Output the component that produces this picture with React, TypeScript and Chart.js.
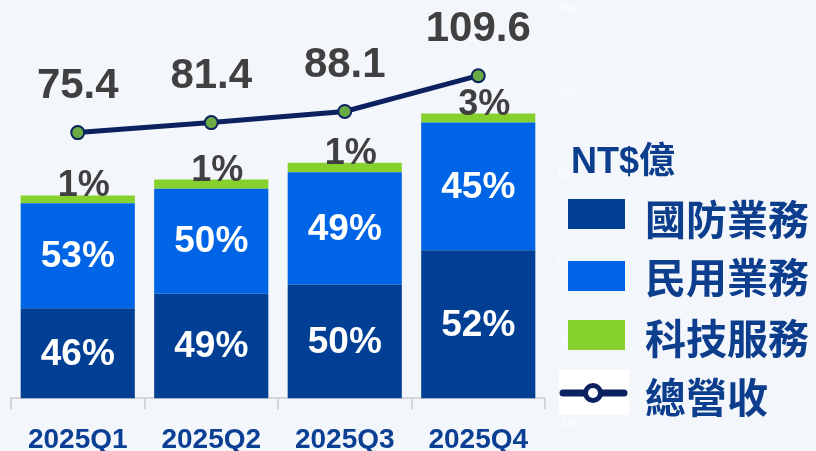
import React, { useEffect, useRef } from "react";
import { Chart, registerables } from "chart.js";

Chart.register(...registerables);

const categories = ["2025Q1", "2025Q2", "2025Q3", "2025Q4"];
const defenseValues = [34.7, 40.3, 43.7, 57.0];
const civilValues = [40.4, 40.4, 43.3, 49.1];
const techValues = [3.0, 3.5, 3.7, 3.5];
const defensePct = [46, 49, 50, 52];
const civilPct = [53, 50, 49, 45];
const techPct = [1, 1, 1, 3];
const totalRevenue = [75.4, 81.4, 88.1, 109.6];
const rightAxisTicks = [150, 100, 50, 0, -50, -100];

const seriesNames = ["國防業務", "民用業務", "科技服務", "總營收"];
const unitTitle = "NT$億";

const DARK = "#013f95";
const BLUE = "#0064e6";
const GREEN = "#86d12e";
const NAVY = "#0b2160";
const LEGEND_TEXT = "#0d3e8e";
const LATIN = '"Liberation Sans", Arial, "Noto Sans CJK TC", sans-serif';
const CJK = '"Noto Sans CJK TC", "Liberation Sans", sans-serif';

const labelPlugin = {
  id: "valueLabels",
  afterDatasetsDraw(chart: any) {
    const ctx = chart.ctx;
    ctx.save();
    ctx.textAlign = "center";
    ctx.textBaseline = "middle";
    const pctSets = [defensePct, civilPct];
    pctSets.forEach((arr, di) => {
      const meta = chart.getDatasetMeta(di);
      meta.data.forEach((el: any, i: number) => {
        const p = el.getProps(["x", "y", "base"], true);
        ctx.fillStyle = "#ffffff";
        ctx.font = `bold 37px ${LATIN}`;
        ctx.fillText(arr[i] + "%", p.x, (p.y + p.base) / 2 + 1);
      });
    });
    const techMeta = chart.getDatasetMeta(2);
    techMeta.data.forEach((el: any, i: number) => {
      const p = el.getProps(["x", "y", "base"], true);
      ctx.fillStyle = "#404040";
      ctx.font = `bold 36px ${LATIN}`;
      ctx.fillText(techPct[i] + "%", p.x + 6, (p.y + p.base) / 2 - 13);
    });
    const lineMeta = chart.getDatasetMeta(3);
    lineMeta.data.forEach((el: any, i: number) => {
      ctx.fillStyle = "#404040";
      ctx.font = `bold 42px ${LATIN}`;
      ctx.fillText(totalRevenue[i].toFixed(1), el.x, el.y - 46);
    });
    const y1 = chart.scales.y1;
    ctx.textAlign = "left";
    ctx.fillStyle = "#ffffff";
    ctx.font = `11px ${LATIN}`;
    rightAxisTicks.forEach((v) => {
      ctx.fillText(String(v), chart.chartArea.right + 13, y1.getPixelForValue(v));
    });
    ctx.restore();
  },
};

function LegendBox({ top, color }: { top: number; color: string }) {
  return (
    <div
      style={{
        position: "absolute",
        left: 568,
        top,
        width: 57,
        height: 30,
        background: color,
      }}
    />
  );
}

function LegendText({ top, text }: { top: number; text: string }) {
  return (
    <div
      style={{
        position: "absolute",
        left: 645,
        top,
        height: 44,
        lineHeight: "44px",
        fontFamily: CJK,
        fontWeight: 700,
        fontSize: 41,
        color: LEGEND_TEXT,
        whiteSpace: "nowrap",
      }}
    >
      {text}
    </div>
  );
}

export default function App() {
  const canvasRef = useRef<HTMLCanvasElement | null>(null);

  useEffect(() => {
    const canvas = canvasRef.current;
    if (!canvas) return;
    const chart = new Chart(canvas, {
      type: "bar",
      data: {
        labels: categories,
        datasets: [
          {
            label: seriesNames[0],
            data: defenseValues,
            backgroundColor: DARK,
            borderWidth: 0,
            stack: "rev",
            order: 1,
          },
          {
            label: seriesNames[1],
            data: civilValues,
            backgroundColor: BLUE,
            borderWidth: 0,
            stack: "rev",
            order: 1,
          },
          {
            label: seriesNames[2],
            data: techValues,
            backgroundColor: GREEN,
            borderWidth: 0,
            stack: "rev",
            order: 1,
          },
          {
            type: "line",
            label: seriesNames[3],
            data: totalRevenue,
            yAxisID: "y1",
            borderColor: NAVY,
            borderWidth: 5,
            pointRadius: 6.5,
            pointBackgroundColor: "#6aab45",
            pointBorderColor: NAVY,
            pointBorderWidth: 2,
            tension: 0,
            order: 0,
          } as any,
        ],
      },
      options: {
        responsive: false,
        maintainAspectRatio: false,
        animation: false,
        layout: { padding: { left: 11, right: 271, top: 7, bottom: 0 } },
        datasets: {
          bar: { categoryPercentage: 1, barPercentage: 0.855, grouped: false },
        },
        plugins: {
          legend: { display: false },
          tooltip: { enabled: false },
        },
        scales: {
          x: {
            type: "category",
            stacked: true,
            offset: true,
            grid: {
              display: true,
              offset: true,
              drawOnChartArea: false,
              drawTicks: true,
              tickLength: 11,
              color: "#d6d6d6",
              lineWidth: 2,
            },
            border: { display: true, color: "#d6d6d6", width: 2 },
            ticks: {
              color: "#0b3f93",
              font: { family: LATIN, size: 28, weight: "bold" },
              padding: 14,
              maxRotation: 0,
              autoSkip: false,
            },
          },
          y: { stacked: true, display: false, min: 0, max: 150 },
          y1: {
            type: "linear",
            position: "right",
            display: false,
            stacked: false,
            min: -84.4,
            max: 150,
          },
        },
      } as any,
      plugins: [labelPlugin],
    });
    return () => chart.destroy();
  }, []);

  return (
    <div
      style={{
        position: "fixed",
        left: 0,
        top: 0,
        width: 816,
        height: 451,
        overflow: "hidden",
        background: "#f3f6fa",
      }}
    >
      <canvas
        ref={canvasRef}
        width={816}
        height={471}
        style={{ display: "block", position: "absolute", left: 0, top: 0 }}
      />
      <div
        style={{
          position: "absolute",
          left: 571,
          top: 139,
          height: 44,
          lineHeight: "44px",
          fontFamily: LATIN,
          fontWeight: 700,
          fontSize: 36,
          color: LEGEND_TEXT,
          whiteSpace: "nowrap",
        }}
      >
        {unitTitle}
      </div>
      <LegendBox top={199} color={DARK} />
      <LegendText top={195} text={seriesNames[0]} />
      <LegendBox top={261} color={BLUE} />
      <LegendText top={253} text={seriesNames[1]} />
      <LegendBox top={320} color={GREEN} />
      <LegendText top={314} text={seriesNames[2]} />
      <svg
        width={70}
        height={45}
        style={{ position: "absolute", left: 559, top: 370 }}
      >
        <rect x={0} y={0} width={70} height={45} fill="#ffffff" />
        <line x1={4} y1={23} x2={65} y2={23} stroke={NAVY} strokeWidth={7} strokeLinecap="round" />
        <circle cx={34} cy={23} r={10} fill={NAVY} />
        <circle cx={34} cy={23} r={5} fill="#ffffff" />
      </svg>
      <LegendText top={373} text={seriesNames[3]} />
    </div>
  );
}
